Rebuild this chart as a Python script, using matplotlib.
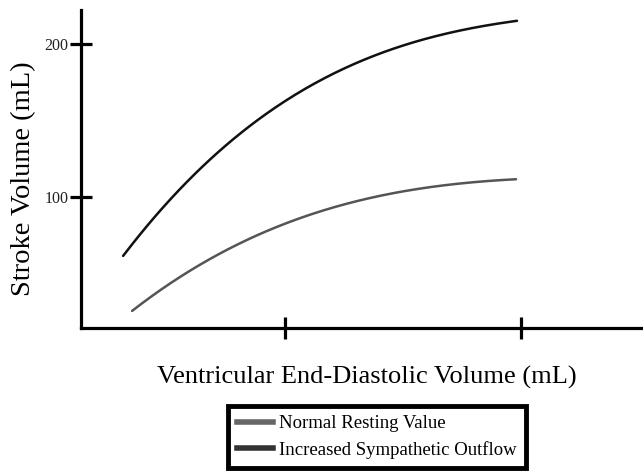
import numpy as np
import matplotlib.pyplot as plt

plt.rcParams["font.family"] = ["Liberation Serif", "DejaVu Serif"]

# end-diastolic volume (mL) and stroke volume (mL)
edv_sym = [31.4, 54.2, 78.0, 106.4, 127.5, 153.0, 174.0, 198.3]
sv_sym = [60.8, 104.6, 137.3, 169.9, 183.0, 201.3, 210.5, 214.4]

edv_rest = [35.2, 56.8, 85.2, 106.4, 136.0, 162.7, 197.9]
sv_rest = [26.1, 47.7, 73.9, 86.3, 99.3, 106.5, 111.8]

labels = ["Normal Resting Value", "Increased Sympathetic Outflow"]
y_ticks = [100, 200]
x_ticks = [100, 200]


def smooth(x, y, n=200):
    c = np.polyfit(x, y, 3)
    xs = np.linspace(x[0], x[-1], n)
    return xs, np.polyval(c, xs)


fig = plt.figure(figsize=(6.43, 4.75), dpi=100)
ax = fig.add_axes([0.126, 0.3095, 0.874, 0.669])

xs, ys = smooth(edv_rest, sv_rest)
ax.plot(xs, ys, color="#555555", lw=1.8, solid_capstyle="round")
xs, ys = smooth(edv_sym, sv_sym)
ax.plot(xs, ys, color="#111111", lw=1.8, solid_capstyle="round")

ax.set_xlim(13.56, 251.7)
ax.set_ylim(14.4, 222.2)

for s in ["top", "right"]:
    ax.spines[s].set_visible(False)
for s in ["left", "bottom"]:
    ax.spines[s].set_linewidth(2.3)
    ax.spines[s].set_color("black")

ax.set_xticks(x_ticks)
ax.set_xticklabels([])
ax.set_yticks(y_ticks)
ax.set_yticklabels([str(v) for v in y_ticks], fontsize=11.5, color="#222222")
ax.tick_params(axis="both", direction="inout", length=16, width=2.3, color="black")
ax.tick_params(axis="y", pad=1)

ax.set_ylabel("Stroke Volume (mL)", fontsize=20.5)
ax.yaxis.set_label_coords(-0.08, 0.47)
ax.set_xlabel("Ventricular End-Diastolic Volume (mL)", fontsize=19)
ax.xaxis.set_label_coords(0.508, -0.118)

h1, = ax.plot([], [], color="#666666", lw=4)
h2, = ax.plot([], [], color="#333333", lw=4)
leg = fig.legend([h1, h2], labels, loc="center",
                 bbox_to_anchor=(377 / 643, 1 - 437 / 475),
                 fontsize=13.5, handlelength=1.9, fancybox=False,
                 framealpha=1, edgecolor="black", labelspacing=0.45,
                 borderpad=0.5, handletextpad=0.35, borderaxespad=0)
leg.get_frame().set_linewidth(3.5)

fig.savefig("out.png", dpi=100)
